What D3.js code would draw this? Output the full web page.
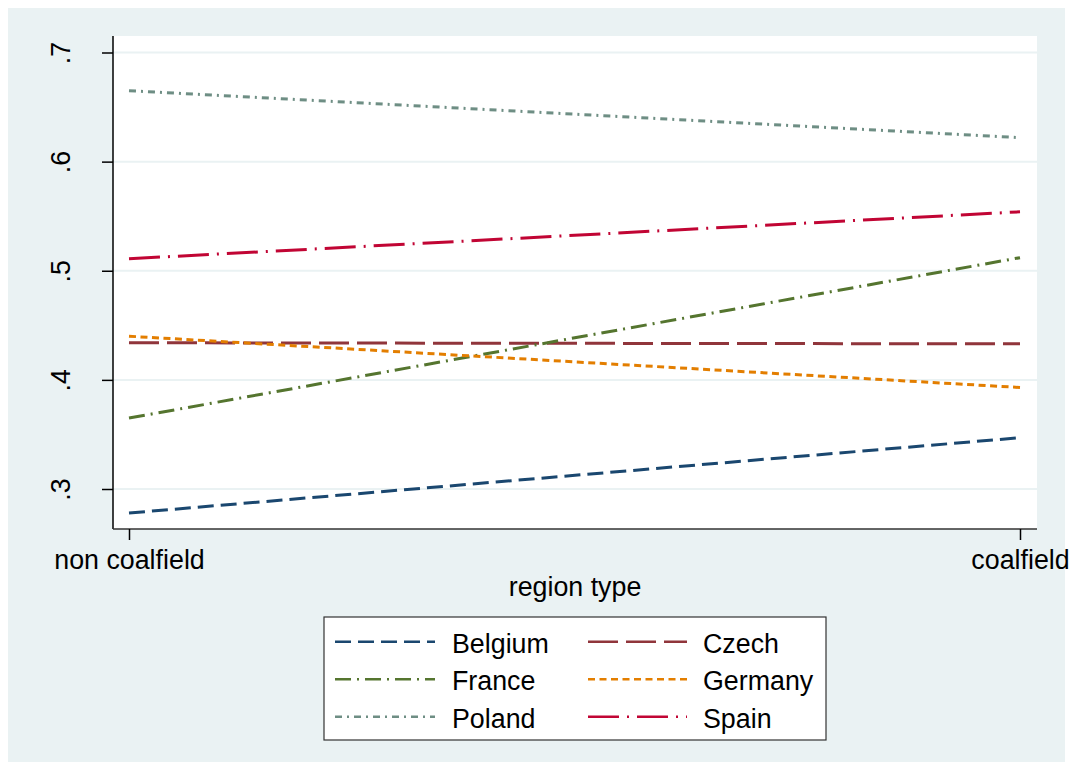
<!DOCTYPE html>
<html>
<head>
<meta charset="utf-8">
<script src="https://cdn.jsdelivr.net/npm/d3@7/dist/d3.min.js"></script>
<style>
  html, body { margin: 0; padding: 0; background: #ffffff; }
  svg { display: block; font-family: "Liberation Sans", Arial, sans-serif; }
</style>
</head>
<body>
<svg id="chart" width="1080" height="769"></svg>
<script>
// Region types on the x axis
const regionTypes = ["non coalfield", "coalfield"];

// Country series, one value per region type
const countries = ["Belgium", "Czech", "France", "Germany", "Poland", "Spain"];
const belgium = [0.278, 0.347];
const czech   = [0.434, 0.433];
const france  = [0.365, 0.512];
const germany = [0.440, 0.393];
const poland  = [0.665, 0.622];
const spain   = [0.511, 0.554];

// Y axis ticks and their labels
const yTicks = [0.3, 0.4, 0.5, 0.6, 0.7];
const yTickLabels = [".3", ".4", ".5", ".6", ".7"];
const xTitle = "region type";

const seriesValues = [belgium, czech, france, germany, poland, spain];
const colors = ["#1a476f", "#90353b", "#55752f", "#e37e00", "#6e8e84", "#c10534"];
const dashes = ["16,7", "30,8", "16,6,2,6", "7,4.5", "7,5,2,5", "31,8,2,8"];
const fontSize = "26.8px";

const svg = d3.select("#chart");

// Outer graph region
svg.append("rect")
  .attr("x", 8).attr("y", 8).attr("width", 1057).attr("height", 754)
  .attr("fill", "#eaf2f3");

// Plot region
const plot = { left: 113, top: 36, right: 1037, bottom: 529 };
svg.append("rect")
  .attr("x", plot.left).attr("y", plot.top)
  .attr("width", plot.right - plot.left).attr("height", plot.bottom - plot.top)
  .attr("fill", "#ffffff");

const x = d3.scalePoint().domain(regionTypes).range([129, 1020]);
const y = d3.scaleLinear().domain([0.3, 0.7]).range([489, 52.5]);

// Horizontal grid lines
svg.append("g").selectAll("line").data(yTicks).join("line")
  .attr("x1", plot.left).attr("x2", plot.right)
  .attr("y1", d => y(d)).attr("y2", d => y(d))
  .attr("stroke", "#eaf2f3").attr("stroke-width", 2);

// Y axis
const yAxis = d3.axisLeft(y).tickValues(yTicks)
  .tickFormat((d, i) => yTickLabels[i]).tickSize(11).tickPadding(0);
const gy = svg.append("g").attr("transform", `translate(${plot.left},0)`).call(yAxis);
gy.select(".domain").attr("d", `M0,${plot.top}V${plot.bottom}`).attr("stroke", "#000").attr("stroke-width", 1.5);
gy.selectAll(".tick line").attr("stroke", "#000").attr("stroke-width", 1.5);
gy.selectAll(".tick text")
  .attr("x", null).attr("dy", null)
  .attr("transform", `translate(${70 - plot.left},0) rotate(-90)`)
  .attr("text-anchor", "middle")
  .attr("fill", "#000")
  .style("font-size", fontSize)
  .style("font-family", "'Liberation Sans', Arial, sans-serif");

// X axis
const xAxis = d3.axisBottom(x).tickSize(11).tickPadding(0);
const gx = svg.append("g").attr("transform", `translate(0,${plot.bottom})`).call(xAxis);
gx.select(".domain").attr("d", `M${plot.left},0H${plot.right}`).attr("stroke", "#333").attr("stroke-width", 1.5);
gx.selectAll(".tick line").attr("stroke", "#000").attr("stroke-width", 1.5);
gx.selectAll(".tick text")
  .attr("y", 40).attr("dy", null)
  .attr("fill", "#000")
  .style("font-size", fontSize)
  .style("font-family", "'Liberation Sans', Arial, sans-serif");

// X axis title
svg.append("text")
  .attr("x", (plot.left + plot.right) / 2).attr("y", 596)
  .attr("text-anchor", "middle")
  .style("font-size", fontSize)
  .text(xTitle);

// Series lines
const line = d3.line().x((d, i) => x(regionTypes[i])).y(d => y(d));
svg.append("g").selectAll("path").data(seriesValues).join("path")
  .attr("d", d => line(d))
  .attr("fill", "none")
  .attr("stroke", (d, i) => colors[i])
  .attr("stroke-width", 3)
  .attr("stroke-dasharray", (d, i) => dashes[i]);

// Legend
const legend = svg.append("g");
legend.append("rect")
  .attr("x", 324).attr("y", 617).attr("width", 502).attr("height", 123)
  .attr("fill", "#ffffff").attr("stroke", "#333").attr("stroke-width", 1.2);

// Legend laid out in two columns: Belgium, Czech / France, Germany / Poland, Spain
const colLine = [[335, 435], [588, 687]];
const colText = [452, 703];
const rowY = [641.7, 679.2, 716.7];
countries.forEach((name, k) => {
  const col = k % 2, row = Math.floor(k / 2);
  const g = legend.append("g");
  g.append("line")
    .attr("x1", colLine[col][0]).attr("x2", colLine[col][1])
    .attr("y1", rowY[row]).attr("y2", rowY[row])
    .attr("stroke", colors[k]).attr("stroke-width", 2.5)
    .attr("stroke-dasharray", dashes[k]);
  g.append("text")
    .attr("x", colText[col]).attr("y", rowY[row] + 11)
    .style("font-size", fontSize)
    .text(name);
});
</script>
</body>
</html>
